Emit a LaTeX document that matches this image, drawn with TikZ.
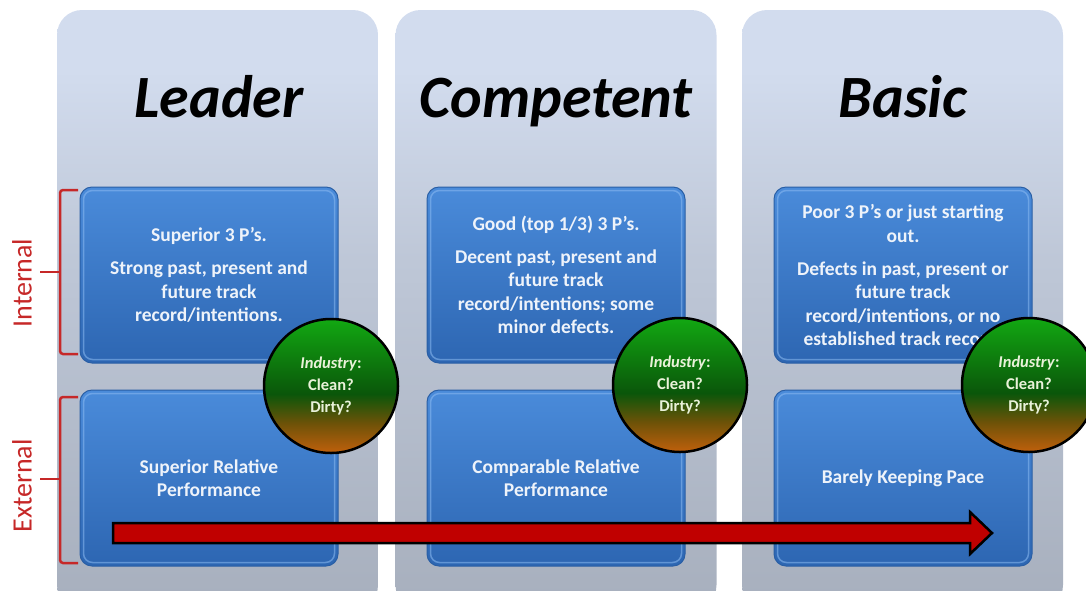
\documentclass[tikz,border=0pt]{standalone}
\usepackage{fontspec}
\setmainfont{Carlito}
\usetikzlibrary{calc}
\definecolor{paneltop}{HTML}{D2DCEE}
\definecolor{panelbot}{HTML}{A7AFBD}
\definecolor{boxtop}{HTML}{4A8BDA}
\definecolor{boxbot}{HTML}{2D66B2}
\definecolor{boxedge}{HTML}{2A5FA5}
\definecolor{boxglow}{HTML}{8CBBF2}
\definecolor{circtop}{HTML}{12A812}
\definecolor{circmid}{HTML}{0A560A}
\definecolor{circbrown}{HTML}{6E5208}
\definecolor{circbot}{HTML}{C0600C}
\definecolor{arrowred}{HTML}{C00000}
\definecolor{bracketred}{HTML}{C62828}
\definecolor{boxtext}{HTML}{EEF3FA}
\definecolor{circtext}{HTML}{E9F2D9}
\pgfdeclareverticalshading{indshade}{100bp}{color(0bp)=(circbot); color(25bp)=(circbot); color(36bp)=(circbrown); color(47bp)=(circmid); color(75bp)=(circtop); color(100bp)=(circtop)}
\pgfdeclareverticalshading{panelshade}{100bp}{color(0bp)=(panelbot); color(25bp)=(panelbot); color(55bp)=(paneltop!55!panelbot); color(70bp)=(paneltop); color(75bp)=(paneltop); color(100bp)=(paneltop)}
\begin{document}
\begin{tikzpicture}[x=1pt,y=-1pt,
  panel/.style={rounded corners=25, shading=panelshade, draw=none,
    minimum width=321, minimum height=600, inner sep=0},
  title/.style={font=\fontsize{60}{60}\selectfont\bfseries\itshape, text=black, anchor=base},
  bluebox/.style={rounded corners=12, top color=boxtop, bottom color=boxbot, draw=boxedge, line width=1,
    minimum width=258, minimum height=176, inner sep=0, align=center, text=boxtext,
    font=\fontsize{19.5}{23.5}\selectfont\bfseries},
  glow/.style={draw=boxglow, line width=1.5, rounded corners=9, opacity=0.55},
  industry/.style={circle, minimum size=134, inner sep=0, draw=black, line width=2.5,
    shading=indshade, align=center, text=circtext,
    font=\fontsize{16.5}{22}\selectfont\bfseries},
  bracket/.style={draw=bracketred, line width=2.5, rounded corners=3},
  sidelabel/.style={rotate=90, text=bracketred, font=\fontsize{28}{28}\selectfont},
  bigarrow/.style={fill=arrowred, draw=black, line width=2.5, line join=miter}
]
\useasboundingbox (0,0) rectangle (1086,590);

% panels
\node[panel] (p1) at (217.5,310) {};
\node[panel] (p2) at (556,310) {};
\node[panel] (p3) at (902.5,310) {};

% titles
\node[title] (t1) at (219,117) {Leader};
\node[title] (t2) at (556,117) {Competent};
\node[title] (t3) at (903,117) {Basic};

% brackets
\coordinate (i1) at (78,190);
\coordinate (i2) at (78,354);
\coordinate (e1) at (78,397);
\coordinate (e2) at (78,563);
\draw[bracket] (i1) -- (60,190) -- (60,354) -- (i2);
\draw[bracket] (60,272) -- (40,272);
\draw[bracket] (e1) -- (60,397) -- (60,563) -- (e2);
\draw[bracket] (60,479) -- (40,479);
\node[sidelabel] (lint) at (22,283) {Internal};
\node[sidelabel] (lext) at (22,486) {External};

% blue boxes
\node[bluebox] (b1) at (209,275) {Superior 3 P’s.\\[9.5pt]Strong past, present and\\future track\\record/intentions.};
\node[bluebox] (b2) at (556,275) {Good (top 1/3) 3 P’s.\\[9.5pt]Decent past, present and\\future track\\record/intentions; some\\minor defects.};
\node[bluebox] (b3) at (903,275) {Poor 3 P’s or just starting\\out.\\[9.5pt]Defects in past, present or\\future track\\record/intentions, or no\\established track record.};
\node[bluebox] (d1) at (209,478) {Superior Relative\\Performance};
\node[bluebox] (d2) at (556,478) {Comparable Relative\\Performance};
\node[bluebox] (d3) at (903,478) {Barely Keeping Pace};
\foreach \b in {b1,b2,b3,d1,d2,d3}
  \draw[glow] ([shift={(4,4)}]\b.north west) rectangle ([shift={(-4,-4)}]\b.south east);

% arrow
\coordinate (as) at (113,533);
\coordinate (ae) at (992,533);
\draw[bigarrow] ([yshift=10]as) -- ([xshift=-22,yshift=10]ae) -- ([xshift=-22,yshift=21]ae) -- (ae)
  -- ([xshift=-22,yshift=-21]ae) -- ([xshift=-22,yshift=-10]ae) -- ([yshift=-10]as) -- cycle;

% industry circles
\node[industry] (c1) at (331,386) {\textit{Industry}:\\Clean?\\Dirty?};
\node[industry] (c2) at (680,385) {\textit{Industry}:\\Clean?\\Dirty?};
\node[industry] (c3) at (1029,385) {\textit{Industry}:\\Clean?\\Dirty?};
\end{tikzpicture}
\end{document}
